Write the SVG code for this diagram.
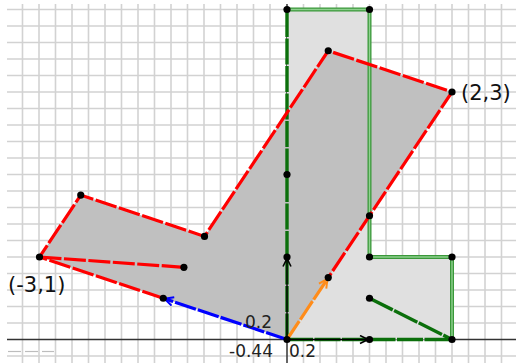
<svg xmlns="http://www.w3.org/2000/svg" width="516" height="363" viewBox="0 0 516 363">
<style>
.grid line{stroke:#d2d2d2;stroke-width:1.6}
.axis{stroke:#333;stroke-width:1.5}
.red{fill:none;stroke:#ff0000;stroke-width:3.2;stroke-dasharray:22 2.5;stroke-linecap:butt}
.gdark{fill:none;stroke:#0b6f0b;stroke-width:3.4;stroke-dasharray:26 1.5}
.gout{fill:none;stroke:#3a983a;stroke-width:4}
.gin{fill:none;stroke:#8fd08f;stroke-width:1.4}
.dot{fill:#000}
.lbl{font-family:"DejaVu Sans",sans-serif;font-size:21px;fill:#111}
.sm{font-family:"DejaVu Sans",sans-serif;font-size:17px;fill:#222}
</style>
<defs>
<marker id="ab" viewBox="0 0 10 10" refX="9" refY="5" markerWidth="10" markerHeight="10" markerUnits="userSpaceOnUse" orient="auto"><path d="M1,1 L9,5 L1,9" fill="none" stroke="#000" stroke-width="1.6"/></marker>
<marker id="abl" viewBox="0 0 10 10" refX="9" refY="5" markerWidth="11" markerHeight="11" markerUnits="userSpaceOnUse" orient="auto"><path d="M1,1 L9,5 L1,9" fill="none" stroke="#0000ff" stroke-width="1.8"/></marker>
<marker id="aor" viewBox="0 0 10 10" refX="9" refY="5" markerWidth="11" markerHeight="11" markerUnits="userSpaceOnUse" orient="auto"><path d="M1,1 L9,5 L1,9" fill="none" stroke="#ff8c1a" stroke-width="1.8"/></marker>
</defs>
<rect width="516" height="363" fill="#fff"/>
<g class="grid">
<line x1="22.5" y1="4" x2="22.5" y2="363"/><line x1="39" y1="4" x2="39" y2="363"/><line x1="55.5" y1="4" x2="55.5" y2="363"/><line x1="72" y1="4" x2="72" y2="363"/><line x1="88.5" y1="4" x2="88.5" y2="363"/><line x1="105" y1="4" x2="105" y2="363"/><line x1="121.5" y1="4" x2="121.5" y2="363"/><line x1="138" y1="4" x2="138" y2="363"/><line x1="154.5" y1="4" x2="154.5" y2="363"/><line x1="171" y1="4" x2="171" y2="363"/><line x1="187.5" y1="4" x2="187.5" y2="363"/><line x1="204" y1="4" x2="204" y2="363"/><line x1="220.5" y1="4" x2="220.5" y2="363"/><line x1="237" y1="4" x2="237" y2="363"/><line x1="253.5" y1="4" x2="253.5" y2="363"/><line x1="270" y1="4" x2="270" y2="363"/><line x1="303.5" y1="4" x2="303.5" y2="363"/><line x1="320" y1="4" x2="320" y2="363"/><line x1="336.5" y1="4" x2="336.5" y2="363"/><line x1="353" y1="4" x2="353" y2="363"/><line x1="369.5" y1="4" x2="369.5" y2="363"/><line x1="386" y1="4" x2="386" y2="363"/><line x1="402.5" y1="4" x2="402.5" y2="363"/><line x1="419" y1="4" x2="419" y2="363"/><line x1="435.5" y1="4" x2="435.5" y2="363"/><line x1="452" y1="4" x2="452" y2="363"/><line x1="468.5" y1="4" x2="468.5" y2="363"/><line x1="485" y1="4" x2="485" y2="363"/><line x1="501.5" y1="4" x2="501.5" y2="363"/>
<line x1="7" y1="9.5" x2="516" y2="9.5"/><line x1="7" y1="26" x2="516" y2="26"/><line x1="7" y1="42.5" x2="516" y2="42.5"/><line x1="7" y1="59" x2="516" y2="59"/><line x1="7" y1="75.5" x2="516" y2="75.5"/><line x1="7" y1="92" x2="516" y2="92"/><line x1="7" y1="108.5" x2="516" y2="108.5"/><line x1="7" y1="125" x2="516" y2="125"/><line x1="7" y1="141.5" x2="516" y2="141.5"/><line x1="7" y1="158" x2="516" y2="158"/><line x1="7" y1="174.5" x2="516" y2="174.5"/><line x1="7" y1="191" x2="516" y2="191"/><line x1="7" y1="207.5" x2="516" y2="207.5"/><line x1="7" y1="224" x2="516" y2="224"/><line x1="7" y1="240.5" x2="516" y2="240.5"/><line x1="7" y1="257" x2="516" y2="257"/><line x1="7" y1="273.5" x2="516" y2="273.5"/><line x1="7" y1="290" x2="516" y2="290"/><line x1="7" y1="306.5" x2="516" y2="306.5"/><line x1="7" y1="323" x2="516" y2="323"/><line x1="7" y1="356" x2="516" y2="356"/>
</g>
<g id="faint" stroke="#bdbdbd" stroke-width="1.2"><line x1="8" y1="351.5" x2="21" y2="351.5"/><line x1="25" y1="351.5" x2="38" y2="351.5"/><line x1="42" y1="351.5" x2="54" y2="351.5"/></g>
<line class="axis" x1="7" y1="339.5" x2="516" y2="339.5"/>
<line class="axis" x1="287" y1="4" x2="287" y2="363"/>
<g id="greenShape">
<polygon points="287,339.5 287,9.5 369.5,9.5 369.5,257 452,257 452,339.5" fill="#e0e0e0"/>
</g>
<g id="redShape">
<polygon points="39.5,257 80.75,195.1 204.5,236.4 328.25,50.75 452,92 328.25,277.6 287,339.5 163.25,298.25" fill="#c0c0c0"/>
</g>
<g id="connectors">
<polyline class="gout" points="287,9.5 369.5,9.5 369.5,257 452,257 452,339.5"/>
<polyline class="gin" points="287,9.5 369.5,9.5 369.5,257 452,257 452,339.5"/>
<line class="gdark" x1="287" y1="339.5" x2="287" y2="9.5"/>
<line class="gdark" x1="287" y1="339.5" x2="452" y2="339.5"/>
<line class="gdark" x1="369.5" y1="298.25" x2="452" y2="339.5" stroke-dasharray="24 2" stroke="#1f801f"/>
<polyline class="red" points="163.25,298.25 39.5,257 80.75,195.1 204.5,236.4 328.25,50.75 452,92 328.25,277.6"/>
<line class="red" x1="39.5" y1="257" x2="183.9" y2="267.3"/>
<line x1="287" y1="339.5" x2="164.5" y2="298.7" stroke="#0000ff" stroke-width="3.2" stroke-dasharray="22 2" marker-end="url(#abl)"/>
<line x1="287" y1="339.5" x2="327.5" y2="278.8" stroke="#ff8c1a" stroke-width="3.2" stroke-dasharray="22 2" marker-end="url(#aor)"/>
<line x1="287" y1="339.5" x2="368" y2="339.5" stroke="#000" stroke-width="1.4" marker-end="url(#ab)"/>
<line x1="287" y1="339.5" x2="287" y2="258.5" stroke="#000" stroke-width="1.4" marker-end="url(#ab)"/>
</g>
<g id="points">
<circle class="dot" cx="39.5" cy="257" r="3.6"/>
<circle class="dot" cx="80.75" cy="195.1" r="3.6"/>
<circle class="dot" cx="204.5" cy="236.4" r="3.6"/>
<circle class="dot" cx="328.25" cy="50.75" r="3.6"/>
<circle class="dot" cx="452" cy="92" r="3.6"/>
<circle class="dot" cx="369.5" cy="215.75" r="3.6"/>
<circle class="dot" cx="328.25" cy="277.6" r="3.6"/>
<circle class="dot" cx="287" cy="339.5" r="3.6"/>
<circle class="dot" cx="163.25" cy="298.25" r="3.6"/>
<circle class="dot" cx="183.9" cy="267.3" r="3.6"/>
<circle class="dot" cx="287" cy="9.5" r="3.6"/>
<circle class="dot" cx="369.5" cy="9.5" r="3.6"/>
<circle class="dot" cx="369.5" cy="257" r="3.6"/>
<circle class="dot" cx="452" cy="257" r="3.6"/>
<circle class="dot" cx="452" cy="339.5" r="3.6"/>
<circle class="dot" cx="369.5" cy="298.25" r="3.6"/>
<circle class="dot" cx="369.5" cy="339.5" r="3.6"/>
<circle class="dot" cx="287" cy="174.5" r="3.6"/>
<circle class="dot" cx="287" cy="257" r="3.6"/>
</g>
<g id="labels">
<text class="lbl" x="461" y="100">(2,3)</text>
<text class="lbl" x="8" y="292">(-3,1)</text>
<text class="sm" x="245" y="328">0.2</text>
<text class="sm" x="289" y="357">0.2</text>
<text class="sm" x="229" y="357" font-size="14">-0.44</text>
</g>
</svg>
